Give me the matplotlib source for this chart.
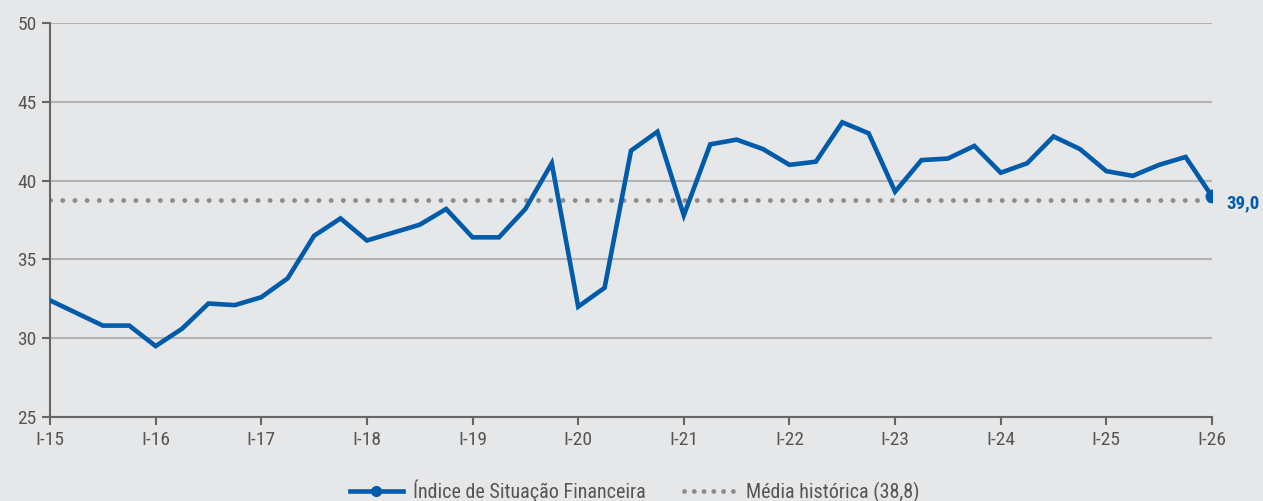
import matplotlib.pyplot as plt
import numpy as np
from matplotlib.lines import Line2D

# Dados
rotulos_x = ['I-15', 'I-16', 'I-17', 'I-18', 'I-19', 'I-20', 'I-21',
             'I-22', 'I-23', 'I-24', 'I-25', 'I-26']
indice = [32.4, 31.6, 30.8, 30.8, 29.5, 30.6, 32.2, 32.1, 32.6, 33.8,
          36.5, 37.6, 36.2, 36.7, 37.2, 38.2, 36.4, 36.4, 38.2, 41.1,
          32.0, 33.2, 41.9, 43.1, 37.8, 42.3, 42.6, 42.0, 41.0, 41.2,
          43.7, 43.0, 39.3, 41.3, 41.4, 42.2, 40.5, 41.1, 42.8, 42.0,
          40.6, 40.3, 41.0, 41.5, 39.0]
media_historica = 38.8

azul = '#005BAA'
cinza_texto = '#555555'
fundo = '#E6E7E9'

plt.rcParams['font.family'] = ['Roboto Condensed', 'Open Sans', 'DejaVu Sans']

fig = plt.figure(figsize=(12.63, 5.01), dpi=100, facecolor=fundo)
ax = fig.add_axes([50 / 1263, 1 - 417 / 501, (1212 - 50) / 1263, (417 - 23) / 501])
ax.set_facecolor(fundo)

x = np.arange(len(indice))
ax.axhline(media_historica, color='#8c8c8c', lw=3.5, linestyle=(0, (0.01, 2.5)),
           dash_capstyle='round', zorder=2)
ax.plot(x, indice, color=azul, lw=3.3, solid_joinstyle='miter', zorder=3)
ax.plot(x[-1], indice[-1], 'o', color=azul, ms=9, zorder=4)
ax.annotate(f'{indice[-1]:.1f}'.replace('.', ','), (x[-1], indice[-1]),
            xytext=(10, -5), textcoords='offset points', ha='left', va='center',
            color=azul, fontsize=13.5, fontweight='bold')

ax.set_xlim(0, len(indice) - 1)
ax.set_ylim(25, 50)
ax.set_yticks(range(25, 51, 5))
ax.set_xticks(x[::4])
ax.set_xticklabels(rotulos_x)
ax.grid(axis='y', color='#b3b3b3', lw=1.5, zorder=1)
ax.set_axisbelow(True)

for lado in ['top', 'right']:
    ax.spines[lado].set_visible(False)
for lado in ['left', 'bottom']:
    ax.spines[lado].set_color('#666666')
    ax.spines[lado].set_linewidth(1.5)
ax.tick_params(colors='#666666', labelcolor=cinza_texto, labelsize=14, width=1.5, length=6)
ax.tick_params(axis='x', pad=4)

# Legenda
itens = [
    Line2D([], [], color=azul, lw=3.3, marker='o', ms=7),
    Line2D([], [], color='#8c8c8c', lw=3.5, linestyle=(0, (0.01, 2.0)), dash_capstyle='round'),
]
fig.legend(itens, ['Índice de Situação Financeira', 'Média histórica (38,8)'],
           loc='center', bbox_to_anchor=(635 / 1263, 1 - 491 / 501), ncol=2,
           frameon=False, fontsize=14.5, labelcolor=cinza_texto, handlelength=2.6,
           columnspacing=1.9, handletextpad=0.5)

plt.savefig('out.png', dpi=100, facecolor=fundo)
